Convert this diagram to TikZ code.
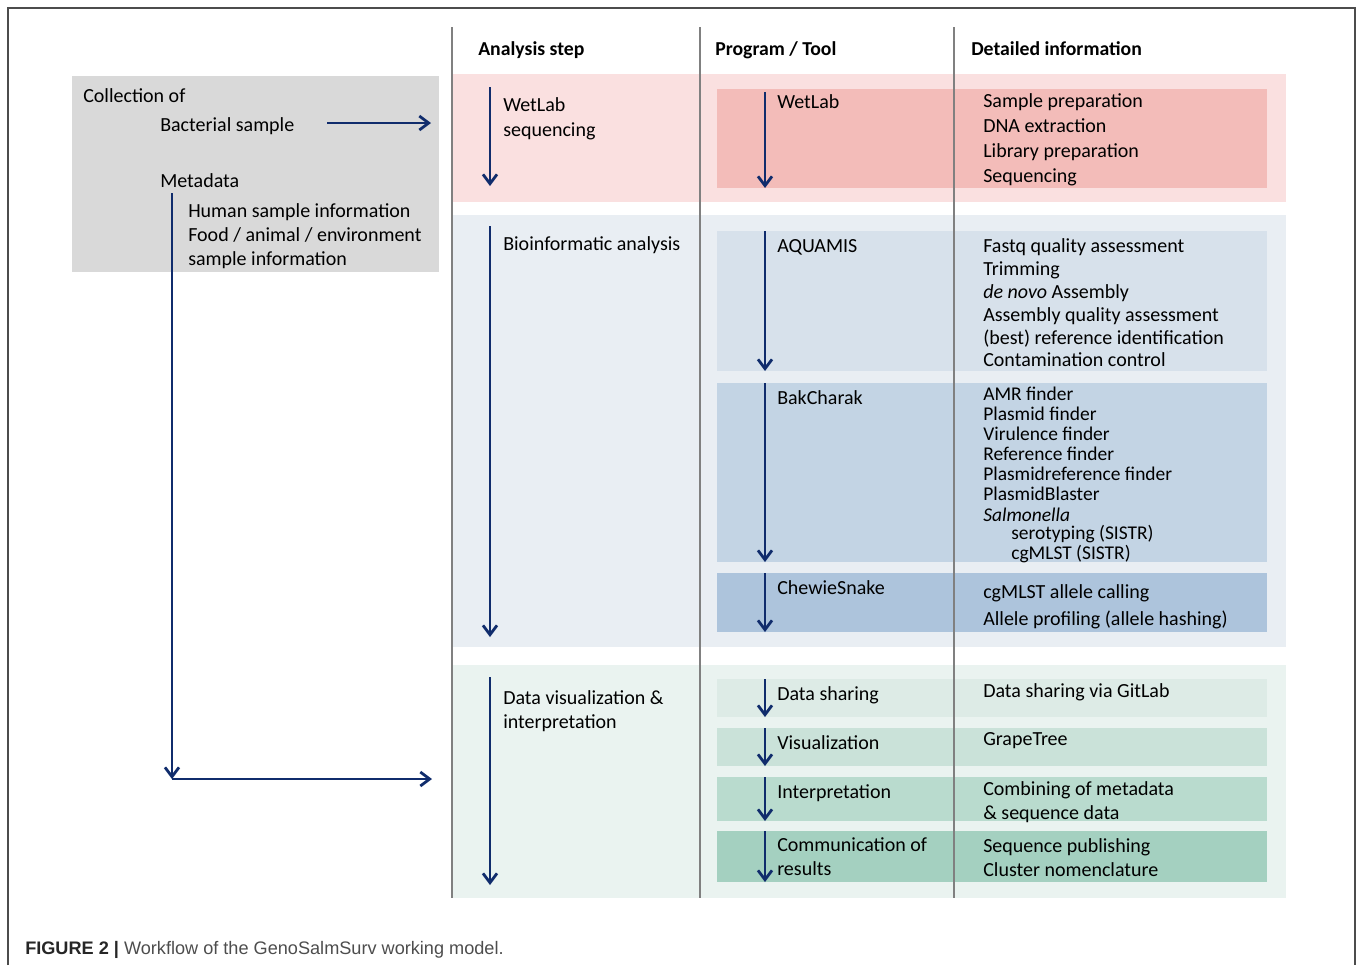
\documentclass[tikz,border=0pt]{standalone}
\usepackage{fontspec}
\setmainfont{Carlito}
\newfontfamily\capfont{Liberation Sans}
\usetikzlibrary{arrows.meta}
\definecolor{navy}{HTML}{102C6C}
\definecolor{colline}{HTML}{808080}
\definecolor{graybox}{HTML}{D9D9D9}
\definecolor{pinkband}{HTML}{FAE0E0}
\definecolor{pinkbox}{HTML}{F3BCB9}
\definecolor{blueband}{HTML}{E9EEF3}
\definecolor{blueA}{HTML}{D7E1EB}
\definecolor{blueB}{HTML}{C3D4E4}
\definecolor{blueC}{HTML}{ADC4DC}
\definecolor{greenband}{HTML}{EAF3F0}
\definecolor{greenA}{HTML}{DDEBE6}
\definecolor{greenB}{HTML}{CAE2D9}
\definecolor{greenC}{HTML}{B9DBCE}
\definecolor{greenD}{HTML}{A4D0C0}
\definecolor{captxt}{HTML}{4D4D4D}
\begin{document}
\begin{tikzpicture}[x=0.75pt,y=-0.75pt,
  txt/.style={anchor=mid west, inner sep=0pt, yshift=-3.5pt, font=\fontsize{15}{18}\selectfont},
  small/.style={anchor=mid west, inner sep=0pt, yshift=-3.5pt, font=\fontsize{14.6}{17}\selectfont},
  head/.style={anchor=mid west, inner sep=0pt, yshift=-3.5pt, font=\fontsize{14.8}{17}\bfseries\selectfont},
  flow/.style={draw=navy, line width=2.1pt, -{Straight Barb[length=7pt,width=10.5pt,line width=2.1pt]}},
  colsep/.style={draw=colline, line width=2pt},
  frame/.style={draw=black!70, line width=1pt}]
\useasboundingbox (0,0) rectangle (1357,965);
% frame
\draw[frame] (8,965) -- (8,8) -- (1355,8) -- (1355,965);
% left gray box
\fill[graybox] (72,76) rectangle (439,272);
% bands
\fill[pinkband] (452,74) rectangle (1286,202);
\fill[pinkbox] (717,89) rectangle (1267,188);
\fill[blueband] (452,215) rectangle (1286,647);
\fill[blueA] (717,231) rectangle (1267,371);
\fill[blueB] (717,383) rectangle (1267,562);
\fill[blueC] (717,573) rectangle (1267,632);
\fill[greenband] (452,665) rectangle (1286,898);
\fill[greenA] (717,679) rectangle (1267,717);
\fill[greenB] (717,728) rectangle (1267,766);
\fill[greenC] (717,777) rectangle (1267,821);
\fill[greenD] (717,831) rectangle (1267,882);
% column lines
\coordinate (c1t) at (452,27); \coordinate (c1b) at (452,898);
\coordinate (c2t) at (700,27); \coordinate (c2b) at (700,898);
\coordinate (c3t) at (954,27); \coordinate (c3b) at (954,898);
\draw[colsep] (c1t) -- (c1b);
\draw[colsep] (c2t) -- (c2b);
\draw[colsep] (c3t) -- (c3b);
% headers
\node[head] (h1) at (478,48) {Analysis step};
\node[head] (h2) at (715,48) {Program / Tool};
\node[head] (h3) at (971,48) {Detailed information};
% left box text
\node[txt] (coll) at (83,95) {Collection of};
\node[txt] (bact) at (160,124) {Bacterial sample};
\node[txt] (meta) at (160,180) {Metadata};
\node[txt] (m1) at (188,210) {Human sample information};
\node[txt] (m2) at (188,234) {Food / animal / environment};
\node[txt] (m3) at (188,258) {sample information};
\coordinate (ba1) at (327,123); \coordinate (ba2) at (431,123);
\draw[flow] (ba1) -- (ba2);
\coordinate (mv1) at (172,193); \coordinate (mv2) at (172,779);
\coordinate (mh1) at (172,779); \coordinate (mh2) at (432,779);
\draw[flow] (mv1) -- (mv2);
\draw[flow] (mh1) -- (mh2);
% ---- WetLab section
\coordinate (wa1) at (490,87); \coordinate (wa2) at (490,186);
\draw[flow] (wa1) -- (wa2);
\node[txt] (ws1) at (503,104) {WetLab};
\node[txt] (ws2) at (503,129) {sequencing};
\coordinate (wt1) at (765,92); \coordinate (wt2) at (765,188);
\draw[flow] (wt1) -- (wt2);
\node[txt] (wt) at (777,101) {WetLab};
\node[txt] (wd1) at (983,100) {Sample preparation};
\node[txt] (wd2) at (983,125) {DNA extraction};
\node[txt] (wd3) at (983,150) {Library preparation};
\node[txt] (wd4) at (983,175) {Sequencing};
% ---- Bioinformatics
\coordinate (ba3) at (490,226); \coordinate (ba4) at (490,637);
\draw[flow] (ba3) -- (ba4);
\node[txt] (bio) at (503,243) {Bioinformatic analysis};
\coordinate (aq1) at (765,231); \coordinate (aq2) at (765,371);
\draw[flow] (aq1) -- (aq2);
\node[txt] (aq) at (777,245) {AQUAMIS};
\node[txt] (ad1) at (983,245) {Fastq quality assessment};
\node[txt] (ad2) at (983,268) {Trimming};
\node[txt] (ad3) at (983,291) {\textit{de novo} Assembly};
\node[txt] (ad4) at (983,314) {Assembly quality assessment};
\node[txt] (ad5) at (983,337) {(best) reference identification};
\node[txt] (ad6) at (983,359) {Contamination control};
\coordinate (bk1) at (765,383); \coordinate (bk2) at (765,562);
\draw[flow] (bk1) -- (bk2);
\node[txt] (bk) at (777,397) {BakCharak};
\node[small] (bd1) at (983,393) {AMR finder};
\node[small] (bd2) at (983,413) {Plasmid finder};
\node[small] (bd3) at (983,433) {Virulence finder};
\node[small] (bd4) at (983,453) {Reference finder};
\node[small] (bd5) at (983,473) {Plasmidreference finder};
\node[small] (bd6) at (983,493) {PlasmidBlaster};
\node[small] (bd7) at (983,514) {\textit{Salmonella}};
\node[small] (bd8) at (1011,532) {serotyping (SISTR)};
\node[small] (bd9) at (1011,552) {cgMLST (SISTR)};
\coordinate (ch1) at (765,573); \coordinate (ch2) at (765,632);
\draw[flow] (ch1) -- (ch2);
\node[txt] (ch) at (777,587) {ChewieSnake};
\node[txt] (cd1) at (983,591) {cgMLST allele calling};
\node[txt] (cd2) at (983,618) {Allele profiling (allele hashing)};
% ---- Data visualization
\coordinate (dv1) at (490,677); \coordinate (dv2) at (490,885);
\draw[flow] (dv1) -- (dv2);
\node[txt] (dvt1) at (503,697) {Data visualization \&};
\node[txt] (dvt2) at (503,721) {interpretation};
\coordinate (ds1) at (765,679); \coordinate (ds2) at (765,717);
\draw[flow] (ds1) -- (ds2);
\node[txt] (ds) at (777,693) {Data sharing};
\node[txt] (dsd) at (983,690) {Data sharing via GitLab};
\coordinate (vi1) at (765,728); \coordinate (vi2) at (765,766);
\draw[flow] (vi1) -- (vi2);
\node[txt] (vi) at (777,742) {Visualization};
\node[txt] (vid) at (983,738) {GrapeTree};
\coordinate (in1) at (765,777); \coordinate (in2) at (765,821);
\draw[flow] (in1) -- (in2);
\node[txt] (in) at (777,791) {Interpretation};
\node[txt] (ind1) at (983,788) {Combining of metadata};
\node[txt] (ind2) at (983,812) {\& sequence data};
\coordinate (co1) at (765,831); \coordinate (co2) at (765,882);
\draw[flow] (co1) -- (co2);
\node[txt] (cot1) at (777,844) {Communication of};
\node[txt] (cot2) at (777,868) {results};
\node[txt] (cod1) at (983,845) {Sequence publishing};
\node[txt] (cod2) at (983,869) {Cluster nomenclature};
% caption
\node[anchor=mid west, inner sep=0pt, yshift=-3pt, font=\capfont\fontsize{13.6}{16}\selectfont, text=captxt] (cap) at (25,947)
  {\textbf{\color{black!85}FIGURE 2 |} Workflow of the GenoSalmSurv working model.};
\end{tikzpicture}
\end{document}
